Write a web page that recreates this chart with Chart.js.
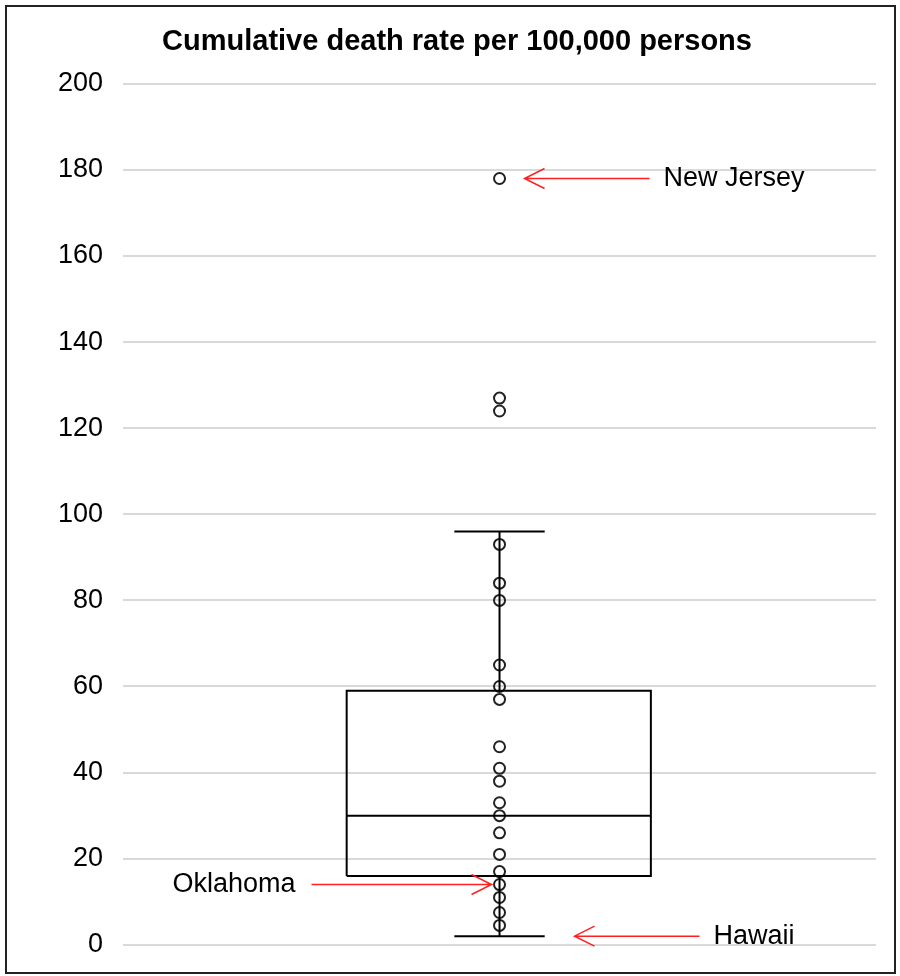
<!DOCTYPE html>
<html>
<head>
<meta charset="utf-8">
<script src="https://cdn.jsdelivr.net/npm/chart.js@4/dist/chart.umd.min.js"></script>
<style>
  body { margin: 0; background: #fff; }
  #wrap { position: absolute; left: 5px; top: 5px; width: 891px; height: 969px; border: 2px solid #222; box-sizing: border-box; overflow: hidden; }
  #inner { position: relative; width: 887px; height: 974px; }
</style>
</head>
<body>
<div id="wrap"><div id="inner"><canvas id="c"></canvas></div></div>
<script>
// state death rates
const rates = [178, 127, 124, 93, 84, 80, 65, 60, 57, 46, 41, 38, 33, 30, 26, 21, 17, 14, 11, 7.5, 4.5];
const boxStats = { min: 2, q1: 16, median: 30, q3: 59, max: 96 };
const yTicks = [0, 20, 40, 60, 80, 100, 120, 140, 160, 180, 200];
const notes = [
  { label: 'New Jersey', value: 178, side: 'right' },
  { label: 'Hawaii', value: 2, side: 'right' },
  { label: 'Oklahoma', value: 14, side: 'left' }
];

const cx = 0.5, bl = 0.297, br = 0.701, cl = 0.44, cr = 0.56;
const line = (pts) => ({ data: pts, showLine: true, borderColor: '#000', borderWidth: 2, pointRadius: 0, fill: false });

const annotate = {
  id: 'annotate',
  afterDatasetsDraw(chart) {
    const { ctx, scales: { x, y } } = chart;
    ctx.save();
    ctx.font = '27px Arial, "Liberation Sans"';
    ctx.fillStyle = '#000';
    ctx.strokeStyle = '#ff2020';
    ctx.lineWidth = 1.5;
    ctx.textBaseline = 'middle';
    notes.forEach(n => {
      const py = y.getPixelForValue(n.value);
      let x0, x1, tx;
      if (n.side === 'right') {
        x1 = x.getPixelForValue(cx) + (n.value > 100 ? 25 : 75);
        x0 = x1 + 125;
        tx = x0 + 14;
        ctx.textAlign = 'left';
      } else {
        x1 = x.getPixelForValue(cx) - 8;
        x0 = x1 - 180;
        tx = x0 - 16;
        ctx.textAlign = 'right';
      }
      const dir = Math.sign(x0 - x1);
      ctx.beginPath();
      ctx.moveTo(x0, py); ctx.lineTo(x1, py);
      ctx.moveTo(x1 + dir * 20, py - 10); ctx.lineTo(x1, py); ctx.lineTo(x1 + dir * 20, py + 10);
      ctx.stroke();
      ctx.fillText(n.label, tx, py);
    });
    ctx.restore();
  }
};

new Chart(document.getElementById('c'), {
  type: 'scatter',
  data: {
    datasets: [
      line([{ x: bl, y: boxStats.q1 }, { x: br, y: boxStats.q1 }, { x: br, y: boxStats.q3 }, { x: bl, y: boxStats.q3 }, { x: bl, y: boxStats.q1 }]),
      line([{ x: bl, y: boxStats.median }, { x: br, y: boxStats.median }]),
      line([{ x: cx, y: boxStats.q3 }, { x: cx, y: boxStats.max }]),
      line([{ x: cx, y: boxStats.q1 }, { x: cx, y: boxStats.min }]),
      line([{ x: cl, y: boxStats.max }, { x: cr, y: boxStats.max }]),
      line([{ x: cl, y: boxStats.min }, { x: cr, y: boxStats.min }]),
      {
        data: rates.map(v => ({ x: cx, y: v })),
        pointRadius: 5.5, pointBorderWidth: 2, pointBorderColor: '#222', pointBackgroundColor: 'rgba(0,0,0,0)'
      }
    ]
  },
  options: {
    responsive: true, maintainAspectRatio: false, animation: false,
    layout: { padding: { left: 31, right: 18, top: 4, bottom: 0 } },
    plugins: {
      legend: { display: false }, tooltip: { enabled: false },
      title: { display: true, text: 'Cumulative death rate per 100,000 persons', color: '#000',
        font: { size: 29, weight: 'bold', family: 'Arial, "Liberation Sans"' }, padding: { top: 14, bottom: 24 } }
    },
    scales: {
      x: { min: 0, max: 1, display: false },
      y: {
        min: 0, max: 200,
        afterBuildTicks: (s) => { s.ticks = yTicks.map(v => ({ value: v })); },
        grid: { color: '#d9d9d9', lineWidth: 2, drawTicks: false },
        border: { display: false },
        ticks: { color: '#000', padding: 20, font: { size: 27, family: 'Arial, "Liberation Sans"' } }
      }
    }
  },
  plugins: [annotate]
});
</script>
</body>
</html>
